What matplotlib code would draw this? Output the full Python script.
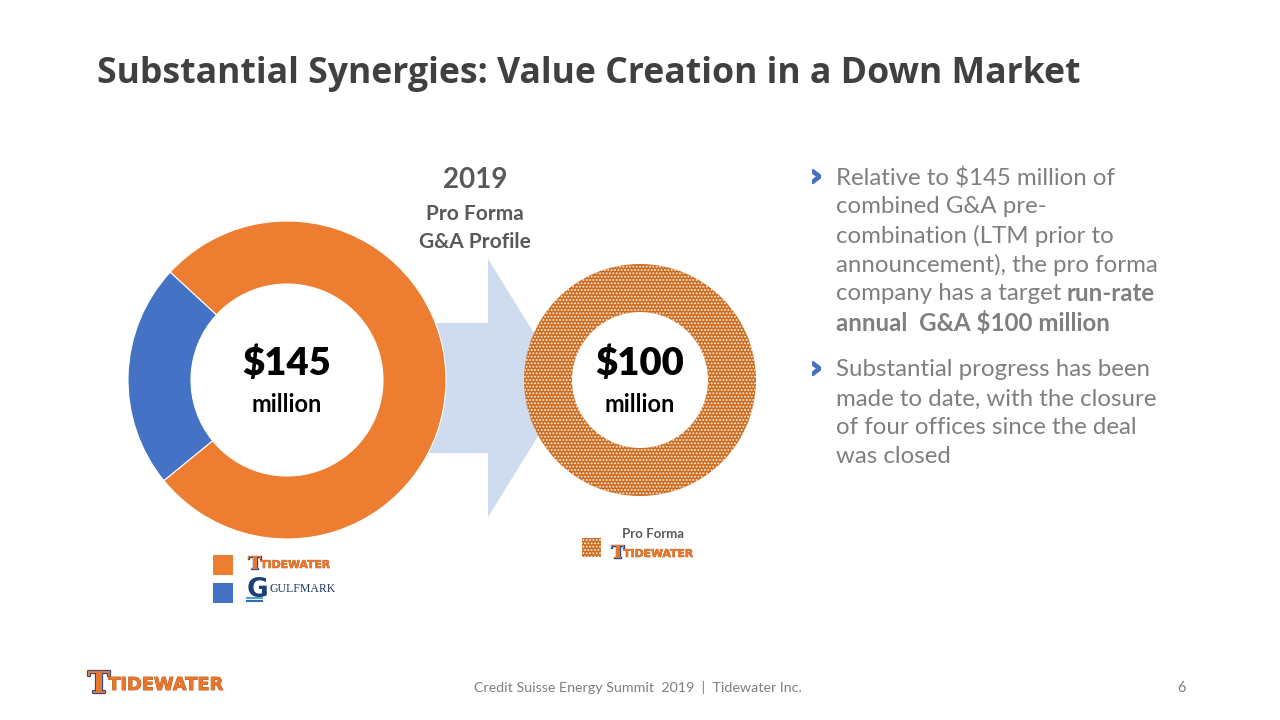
import matplotlib
matplotlib.use('Agg')
import matplotlib.pyplot as plt
from matplotlib.patches import Polygon, Rectangle
import matplotlib.patheffects as pe

# data
companies = ['Tidewater', 'GulfMark']
g_and_a = [112, 33]              # combined LTM G&A, $ million
pro_forma = [100]                # pro forma run-rate G&A, $ million
colors = ['#ED7D31', '#4472C4']

title = 'Substantial Synergies: Value Creation in a Down Market'
bullets = [
    ['Relative to $145 million of', 'combined G&A pre-',
     'combination (LTM prior to', 'announcement), the pro forma',
     'company has a target'],
    ['Substantial progress has been', 'made to date, with the closure',
     'of four offices since the deal', 'was closed'],
]
footer = 'Credit Suisse Energy Summit  2019  |  Tidewater Inc.'

body = 'Lato'
W, H = 1280, 720


def Y(y):
    # pixel row (from top) -> data y
    return H - y


fig = plt.figure(figsize=(12.8, 7.2), dpi=100)
fig.patch.set_facecolor('white')
ax = fig.add_axes([0, 0, 1, 1])

# arrow behind the donuts
ay = 388
arrow = Polygon([(400, Y(ay - 65)), (488, Y(ay - 65)), (488, Y(ay - 129)),
                 (568, Y(ay)), (488, Y(ay + 129)), (488, Y(ay + 65)),
                 (400, Y(ay + 65))], closed=True, facecolor='#CFDBEF',
                edgecolor='none', zorder=1)
ax.add_patch(arrow)

# big donut: combined G&A
wedges, _ = ax.pie(g_and_a, colors=colors, center=(287, Y(380)), radius=159,
                   startangle=137.3, counterclock=False,
                   wedgeprops=dict(width=63, edgecolor='white', linewidth=0.8))
for w in wedges:
    w.set_zorder(2)

# small donut: pro forma
plt.rcParams['hatch.linewidth'] = 0.9
pw, _ = ax.pie(pro_forma, colors=['#CC6C20'], center=(640, Y(380)), radius=116,
               startangle=90,
               wedgeprops=dict(width=48, edgecolor='#FFF1E2', linewidth=0,
                               hatch='.....'))
for w in pw:
    w.set_zorder(2)

ax.set_xlim(0, W)
ax.set_ylim(0, H)
ax.set_aspect('equal')
ax.axis('off')

# centre labels
for cx, val in [(287, sum(g_and_a)), (640, pro_forma[0])]:
    ax.text(cx, Y(363), '$%d' % val, fontsize=27.5, fontweight='heavy',
            fontname=body, ha='center', va='center', color='black', zorder=3)
    ax.text(cx, Y(404), 'million', fontsize=17, fontweight='bold',
            fontname=body, ha='center', va='center', color='black', zorder=3)

# heading over the arrow
ax.text(475, Y(180), '2019', fontsize=20, fontweight='bold', fontname=body,
        ha='center', va='center', color='#595959')
ax.text(475, Y(214), 'Pro Forma', fontsize=15, fontweight='bold', fontname=body,
        ha='center', va='center', color='#595959')
ax.text(475, Y(242), 'G&A Profile', fontsize=15, fontweight='bold',
        fontname=body, ha='center', va='center', color='#595959')

# title
ax.text(97, Y(74), title, fontsize=25.7, fontweight='bold', fontname='Open Sans',
        ha='left', va='center', color='#404040')


def tidewater_logo(x, y, s):
    # rough text stand-in for the Tidewater logo
    ax.text(x, Y(y), 'T', fontsize=16 * s, fontweight='bold',
            fontname='DejaVu Serif', color='#E8772E', ha='left', va='center',
            path_effects=[pe.withStroke(linewidth=1.2 * s,
                                        foreground='#2E4C8C')])
    ax.text(x + 15 * s, Y(y + 1), 'TIDEWATER', fontsize=9.5 * s,
            fontweight='heavy', fontname='Liberation Sans Narrow',
            color='#E8772E', ha='left', va='center',
            path_effects=[pe.withStroke(linewidth=0.5 * s,
                                        foreground='#B85A1E')])


# legend for big donut
ax.add_patch(Rectangle((213, Y(575)), 20, 20, facecolor=colors[0],
                       edgecolor='none'))
ax.add_patch(Rectangle((213, Y(603)), 20, 20, facecolor=colors[1],
                       edgecolor='none'))
tidewater_logo(248, 564, 0.82)
ax.text(247, Y(590), 'G', fontsize=19, fontweight='bold',
        fontname='DejaVu Sans', color='#1F3F7A', ha='left', va='center')
for k, c in enumerate(['#4FA3D1', '#2E6FB0']):
    ax.plot([247, 262], [Y(598 + 3 * k), Y(598 + 3 * k)], color=c, lw=1.5)
ax.text(270, Y(589), companies[1].upper(), fontsize=8.5,
        fontname='Liberation Serif', color='#1F3A5F', ha='left', va='center')

# legend for pro forma donut
ax.add_patch(Rectangle((582, Y(557)), 19, 19, facecolor='#CC6C20',
                       edgecolor='#FFF1E2', linewidth=0, hatch='.....'))
ax.text(653, Y(534), 'Pro Forma', fontsize=9.5, fontweight='bold',
        fontname=body, ha='center', va='center', color='#595959')
tidewater_logo(611, 553, 0.82)

# bullets
fig.canvas.draw()
renderer = fig.canvas.get_renderer()
tx = 836
line_h = 28.9
for b, lines in enumerate(bullets):
    start = 178 if b == 0 else 370
    ax.text(810, Y(start - 1), '\u203a', fontsize=22, fontweight='bold',
            fontname='DejaVu Sans', color='#4472C4', ha='left', va='center',
            path_effects=[pe.withStroke(linewidth=1.2, foreground='#4472C4')])
    for i, ln in enumerate(lines):
        t = ax.text(tx, Y(start + i * line_h), ln, fontsize=17.3, fontname=body,
                    color='#7F7F7F', ha='left', va='center')
        if b == 0 and i == len(lines) - 1:
            bb = t.get_window_extent(renderer)
            ax.text(bb.x1 + 5, Y(start + i * line_h), 'run-rate', fontsize=17.3,
                    fontweight='bold', fontname=body, color='#7F7F7F',
                    ha='left', va='center')
            ax.text(tx, Y(start + (i + 1) * line_h), 'annual  G&A $100 million',
                    fontsize=17.3, fontweight='bold', fontname=body,
                    color='#7F7F7F', ha='left', va='center')

# footer
tidewater_logo(88, 684, 1.35)
ax.text(638, Y(688), footer, fontsize=10.3, fontname=body, color='#7F7F7F',
        ha='center', va='center')
ax.text(1181, Y(688), '6', fontsize=10.5, fontname=body, color='#7F7F7F',
        ha='center', va='center')

fig.savefig('out.png', dpi=100, facecolor='white')
